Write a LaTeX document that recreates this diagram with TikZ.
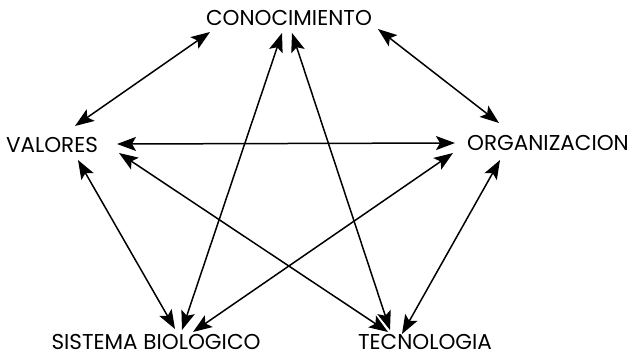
\documentclass[tikz,border=0pt]{standalone}
\usepackage{fontspec}
\setmainfont{Poppins}
\usetikzlibrary{arrows.meta}

\tikzset{
  >={Stealth[length=19pt,width=14pt,inset=4pt]},
  tema/.style={inner sep=0pt, text height=14pt, text depth=0pt, font=\fontsize{21.5}{25}\selectfont},
  enlace/.style={<->, line width=1.5pt},
}

\begin{document}
\begin{tikzpicture}[x=1pt,y=-1pt]
        \useasboundingbox (0,0) rectangle (633,357);
        \node[tema] (con) at (289,18) {CONOCIMIENTO};
        \node[tema] (val) at (52,145) {VALORES};
        \node[tema] (org) at (548,143) {ORGANIZACION};
        \node[tema] (sis) at (156,342) {SISTEMA BIOLOGICO};
        \node[tema] (tec) at (425,342) {TECNOLOGIA};
        % lados del pentagono
        \draw[enlace] ([shift={(-79,14)}]con.center) -- ([shift={(23,-19)}]val.center);
        \draw[enlace] ([shift={(89,11)}]con.center) -- ([shift={(-49,-20)}]org.center);
        \draw[enlace] ([shift={(26,15)}]val.center) -- ([shift={(19,-13)}]sis.center);
        \draw[enlace] ([shift={(-48,17)}]org.center) -- ([shift={(-23,-8)}]tec.center);
        % diagonales
        \draw[enlace] ([shift={(65,-1)}]val.center) -- ([shift={(-93,0)}]org.center);
        \draw[enlace] ([shift={(-7,15)}]con.center) -- ([shift={(26,-12)}]sis.center);
        \draw[enlace] ([shift={(3,15)}]con.center) -- ([shift={(-35,-12)}]tec.center);
        \draw[enlace] ([shift={(67,8)}]val.center) -- ([shift={(-37,-10)}]tec.center);
        \draw[enlace] ([shift={(-95,10)}]org.center) -- ([shift={(37,-10)}]sis.center);
\end{tikzpicture}
\end{document}
